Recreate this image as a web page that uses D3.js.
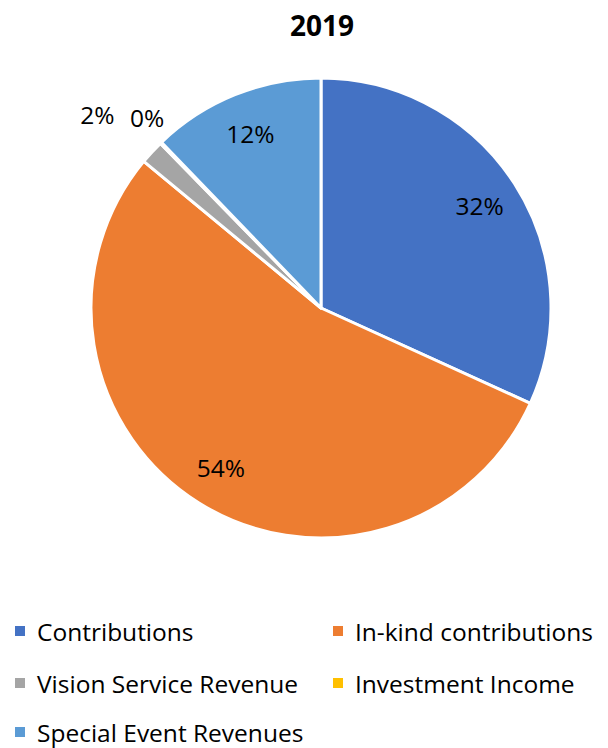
<!DOCTYPE html>
<html>
<head>
<meta charset="utf-8">
<script src="https://cdn.jsdelivr.net/npm/d3@7"></script>
<style>
  html, body { margin: 0; padding: 0; background: #fff; }
  svg { display: block; font-family: "Open Sans", "Noto Sans", sans-serif; }
</style>
</head>
<body>
<svg id="chart" width="608" height="748"></svg>
<script>
// Revenue composition, 2019
const categories = [
  "Contributions",
  "In-kind contributions",
  "Vision Service Revenue",
  "Investment Income",
  "Special Event Revenues"
];
const shares = [31.8, 54.2, 1.7, 0.1, 12.2];
const colors = ["#4472C4", "#ED7D31", "#A5A5A5", "#FFC000", "#5B9BD5"];
const title = "2019";

const width = 608, height = 748;
const cx = 321, cy = 308, radius = 230;

const svg = d3.select("#chart");

svg.append("text")
  .attr("x", cx + 1)
  .attr("y", 36)
  .attr("text-anchor", "middle")
  .attr("font-size", 28)
  .attr("font-weight", "bold")
  .attr("fill", "#000")
  .text(title);

const data = categories.map((c, i) => ({ name: c, value: shares[i], color: colors[i] }));
const total = d3.sum(shares);

const pie = d3.pie().value(d => d.value).sort(null);
const arcs = pie(data);
const arc = d3.arc().innerRadius(0).outerRadius(radius);

const g = svg.append("g").attr("transform", `translate(${cx},${cy})`);

g.selectAll("path.slice")
  .data(arcs)
  .join("path")
  .attr("class", "slice")
  .attr("d", arc)
  .attr("fill", d => d.data.color)
  .attr("stroke", "#fff")
  .attr("stroke-width", 3)
  .attr("stroke-linejoin", "round");

// Inside labels sit at 82% of the radius; thin slices get theirs outside the rim
const insideArc = d3.arc().innerRadius(radius * 0.82).outerRadius(radius * 0.82);
const outsideRadii = [296, 258];
let outsideIdx = 0;
const fmt = v => Math.round(v / total * 100) + "%";

arcs.forEach(d => {
  const frac = d.data.value / total;
  let pos;
  if (frac >= 0.05) {
    pos = insideArc.centroid(d);
  } else {
    const r = outsideRadii[outsideIdx % outsideRadii.length];
    outsideIdx++;
    const a = (d.startAngle + d.endAngle) / 2 + (outsideIdx === 1 ? -0.03 : 0.03);
    pos = [Math.sin(a) * r, -Math.cos(a) * r];
  }
  g.append("text")
    .attr("x", pos[0])
    .attr("y", pos[1])
    .attr("text-anchor", "middle")
    .attr("dominant-baseline", "central")
    .attr("font-size", 24.5)
    .attr("fill", "#000")
    .text(fmt(d.data.value));
});

// Legend: two columns, three rows
const legendCols = [15, 333];
const legendRows = [631, 683, 732];
const legend = svg.append("g");
data.forEach((d, i) => {
  const x = legendCols[i % 2];
  const y = legendRows[Math.floor(i / 2)];
  legend.append("rect")
    .attr("x", x)
    .attr("y", y - 5)
    .attr("width", 10)
    .attr("height", 10)
    .attr("fill", d.color);
  legend.append("text")
    .attr("x", x + 22)
    .attr("y", y)
    .attr("dominant-baseline", "central")
    .attr("font-size", 24.5)
    .attr("fill", "#000")
    .text(d.name);
});
</script>
</body>
</html>
